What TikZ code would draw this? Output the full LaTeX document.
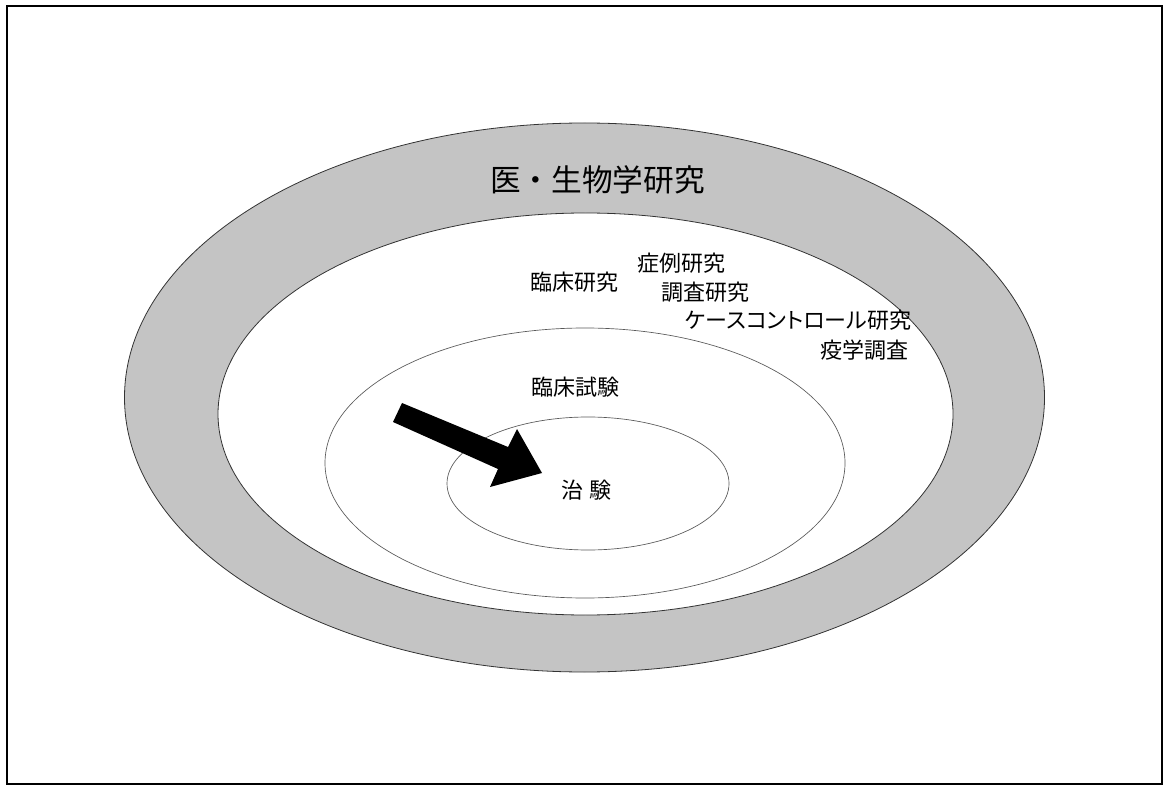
\documentclass[tikz,border=0pt]{standalone}
\usepackage{fontspec}
\newfontfamily\cjk{Noto Sans CJK JP}
\newfontfamily\cjkp{Noto Sans CJK JP}[RawFeature=+palt]
\definecolor{ringgray}{gray}{0.77}
\begin{document}
\begin{tikzpicture}[x=0.75pt,y=-0.75pt,
  lbl/.style={font=\cjk\fontsize{16.5}{18}\selectfont, inner sep=0pt, anchor=west},
  edge/.style={draw=black!80, line width=0.6pt},
  thinedge/.style={draw=black!65, line width=0.5pt}]
\useasboundingbox (0,0) rectangle (1166,787);
\draw[line width=1.2pt] (7,6) rectangle (1162,784);
% outer ring
\fill[ringgray] (584.5,397.5) ellipse [x radius=460, y radius=274.5];
\path[edge] (584.5,397.5) ellipse [x radius=460, y radius=274.5];
\fill[white] (585.5,414) ellipse [x radius=367.5, y radius=201];
\path[edge] (585.5,414) ellipse [x radius=367.5, y radius=201];
% clinical trial ellipse
\path[thinedge] (585,463) ellipse [x radius=260, y radius=135];
% chiken ellipse
\path[thinedge] (588,483.5) ellipse [x radius=141, y radius=66.5];
% arrow
\fill[black] (402,403) -- (508,447) -- (517,429) -- (542,473) -- (490,487) -- (498,469) -- (393,422) -- cycle;
% labels
\node[lbl, font=\cjk\fontsize{23}{25}\selectfont] (bio) at (490,180) {医・生物学研究};
\node[lbl] (rinsho) at (530,282) {臨床研究};
\node[lbl] (shorei) at (637,263) {症例研究};
\node[lbl] (chosa) at (661,292) {調査研究};
\node[lbl, font=\cjkp\fontsize{16.5}{18}\selectfont] (case) at (685,320) {ケースコントロール研究};
\node[lbl] (ekigaku) at (820,350) {疫学調査};
\node[lbl] (shiken) at (531,387) {臨床試験};
\node[lbl] (chiken) at (561,490) {治\hspace{5pt}験};
\end{tikzpicture}
\end{document}
